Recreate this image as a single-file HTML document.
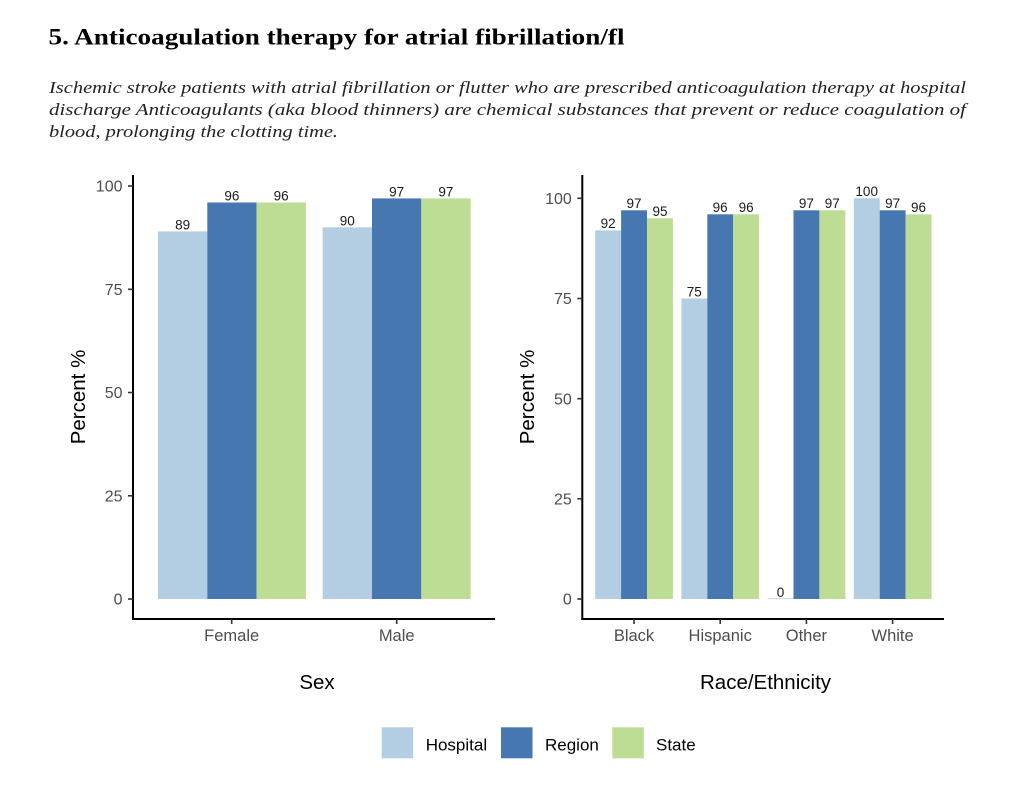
<!DOCTYPE html>
<html>
<head>
<meta charset="utf-8">
<style>
  html,body{margin:0;padding:0;background:#fff;}
  svg{display:block;}
  .tk{font-family:"Liberation Sans",Arial,sans-serif;font-size:16px;fill:#4d4d4d;}
  .tx{font-family:"Liberation Sans",Arial,sans-serif;font-size:16.5px;fill:#4d4d4d;}
  .lb{font-family:"Liberation Sans",Arial,sans-serif;font-size:13.5px;fill:#1a1a1a;}
  .at{font-family:"Liberation Sans",Arial,sans-serif;font-size:20.5px;fill:#000;}
  .lg{font-family:"Liberation Sans",Arial,sans-serif;font-size:17px;fill:#000;}
  .ds{font-family:"Liberation Serif","DejaVu Serif",serif;font-style:italic;font-size:17px;fill:#222;}
  .tt{font-family:"Liberation Serif","DejaVu Serif",serif;font-weight:bold;font-size:23px;fill:#000;}
</style>
</head>
<body>
<svg width="1024" height="790" viewBox="0 0 1024 790" xmlns="http://www.w3.org/2000/svg">
  <rect width="1024" height="790" fill="#fff"/>

  <!-- Title & description -->
  <text class="tt" x="48.5" y="44.5" textLength="576" lengthAdjust="spacingAndGlyphs">5.  Anticoagulation therapy for atrial fibrillation/fl</text>
  <text class="ds" x="49" y="93" textLength="917" lengthAdjust="spacingAndGlyphs">Ischemic stroke patients with atrial fibrillation or flutter who are prescribed anticoagulation therapy at hospital</text>
  <text class="ds" x="49" y="115" textLength="917" lengthAdjust="spacingAndGlyphs">discharge Anticoagulants (aka blood thinners) are chemical substances that prevent or reduce coagulation of</text>
  <text class="ds" x="49" y="137" textLength="289" lengthAdjust="spacingAndGlyphs">blood, prolonging the clotting time.</text>

  <!-- ===== Left panel ===== -->
  <rect x="158" y="231.4" width="49.3" height="367.6" fill="#b3cde3"/>
  <rect x="207.3" y="202.5" width="49.3" height="396.5" fill="#4677b0"/>
  <rect x="256.6" y="202.5" width="49.3" height="396.5" fill="#bedd94"/>
  <rect x="322.7" y="227.3" width="49.3" height="371.7" fill="#b3cde3"/>
  <rect x="372" y="198.4" width="49.3" height="400.6" fill="#4677b0"/>
  <rect x="421.3" y="198.4" width="49.3" height="400.6" fill="#bedd94"/>

  <text class="lb" x="182.6" y="229.4" text-anchor="middle">89</text>
  <text class="lb" x="231.9" y="200.5" text-anchor="middle">96</text>
  <text class="lb" x="281.2" y="200.5" text-anchor="middle">96</text>
  <text class="lb" x="347.3" y="225.3" text-anchor="middle">90</text>
  <text class="lb" x="396.6" y="196.4" text-anchor="middle">97</text>
  <text class="lb" x="445.9" y="196.4" text-anchor="middle">97</text>

  <line x1="133" y1="175" x2="133" y2="620" stroke="#000" stroke-width="2"/>
  <line x1="132" y1="619" x2="495" y2="619" stroke="#000" stroke-width="2"/>
  <g stroke="#333" stroke-width="1.6">
    <line x1="128" y1="186" x2="133" y2="186"/>
    <line x1="128" y1="289.3" x2="133" y2="289.3"/>
    <line x1="128" y1="392.5" x2="133" y2="392.5"/>
    <line x1="128" y1="495.8" x2="133" y2="495.8"/>
    <line x1="128" y1="599" x2="133" y2="599"/>
    <line x1="231.7" y1="619" x2="231.7" y2="624"/>
    <line x1="396.7" y1="619" x2="396.7" y2="624"/>
  </g>
  <text class="tk" x="122.5" y="191.7" text-anchor="end">100</text>
  <text class="tk" x="122.5" y="295" text-anchor="end">75</text>
  <text class="tk" x="122.5" y="398.2" text-anchor="end">50</text>
  <text class="tk" x="122.5" y="501.5" text-anchor="end">25</text>
  <text class="tk" x="122.5" y="604.7" text-anchor="end">0</text>
  <text class="tx" x="231.7" y="641" text-anchor="middle">Female</text>
  <text class="tx" x="396.7" y="641" text-anchor="middle">Male</text>
  <text class="at" x="317" y="689" text-anchor="middle">Sex</text>
  <text class="at" transform="translate(85,397) rotate(-90)" text-anchor="middle">Percent %</text>

  <!-- ===== Right panel ===== -->
  <rect x="595.2" y="230.4" width="25.9" height="368.6" fill="#b3cde3"/>
  <rect x="621.1" y="210.3" width="25.9" height="388.7" fill="#4677b0"/>
  <rect x="647" y="218.3" width="25.9" height="380.7" fill="#bedd94"/>
  <rect x="681.4" y="298.5" width="25.9" height="300.5" fill="#b3cde3"/>
  <rect x="707.3" y="214.3" width="25.9" height="384.7" fill="#4677b0"/>
  <rect x="733.2" y="214.3" width="25.9" height="384.7" fill="#bedd94"/>
  <rect x="767.6" y="598.3" width="25.9" height="0.8" fill="#b3cde3"/>
  <rect x="793.5" y="210.3" width="25.9" height="388.7" fill="#4677b0"/>
  <rect x="819.4" y="210.3" width="25.9" height="388.7" fill="#bedd94"/>
  <rect x="853.8" y="198.3" width="25.9" height="400.7" fill="#b3cde3"/>
  <rect x="879.7" y="210.3" width="25.9" height="388.7" fill="#4677b0"/>
  <rect x="905.6" y="214.3" width="25.9" height="384.7" fill="#bedd94"/>

  <text class="lb" x="608.1" y="228.2" text-anchor="middle">92</text>
  <text class="lb" x="634" y="208.1" text-anchor="middle">97</text>
  <text class="lb" x="660" y="216.1" text-anchor="middle">95</text>
  <text class="lb" x="694.3" y="296.3" text-anchor="middle">75</text>
  <text class="lb" x="720.2" y="212.1" text-anchor="middle">96</text>
  <text class="lb" x="746.1" y="212.1" text-anchor="middle">96</text>
  <text class="lb" x="780.5" y="596.8" text-anchor="middle">0</text>
  <text class="lb" x="806.4" y="208.1" text-anchor="middle">97</text>
  <text class="lb" x="832.3" y="208.1" text-anchor="middle">97</text>
  <text class="lb" x="866.7" y="196.1" text-anchor="middle">100</text>
  <text class="lb" x="892.6" y="208.1" text-anchor="middle">97</text>
  <text class="lb" x="918.5" y="212.1" text-anchor="middle">96</text>

  <line x1="582.3" y1="175" x2="582.3" y2="620" stroke="#000" stroke-width="2"/>
  <line x1="581.3" y1="619" x2="944" y2="619" stroke="#000" stroke-width="2"/>
  <g stroke="#333" stroke-width="1.6">
    <line x1="577.3" y1="198.3" x2="582.3" y2="198.3"/>
    <line x1="577.3" y1="298.5" x2="582.3" y2="298.5"/>
    <line x1="577.3" y1="398.7" x2="582.3" y2="398.7"/>
    <line x1="577.3" y1="498.8" x2="582.3" y2="498.8"/>
    <line x1="577.3" y1="599" x2="582.3" y2="599"/>
    <line x1="634" y1="619" x2="634" y2="624"/>
    <line x1="720.2" y1="619" x2="720.2" y2="624"/>
    <line x1="806.4" y1="619" x2="806.4" y2="624"/>
    <line x1="892.6" y1="619" x2="892.6" y2="624"/>
  </g>
  <text class="tk" x="571.8" y="204" text-anchor="end">100</text>
  <text class="tk" x="571.8" y="304.2" text-anchor="end">75</text>
  <text class="tk" x="571.8" y="404.4" text-anchor="end">50</text>
  <text class="tk" x="571.8" y="504.5" text-anchor="end">25</text>
  <text class="tk" x="571.8" y="604.7" text-anchor="end">0</text>
  <text class="tx" x="634" y="641" text-anchor="middle">Black</text>
  <text class="tx" x="720.2" y="641" text-anchor="middle">Hispanic</text>
  <text class="tx" x="806.4" y="641" text-anchor="middle">Other</text>
  <text class="tx" x="892.6" y="641" text-anchor="middle">White</text>
  <text class="at" x="765.5" y="689" text-anchor="middle">Race/Ethnicity</text>
  <text class="at" transform="translate(534,397) rotate(-90)" text-anchor="middle">Percent %</text>

  <!-- Legend -->
  <rect x="381.7" y="727.3" width="31.5" height="31" fill="#b3cde3"/>
  <text class="lg" x="425.7" y="750.5">Hospital</text>
  <rect x="501" y="727.3" width="31.5" height="31" fill="#4677b0"/>
  <text class="lg" x="545" y="750.5">Region</text>
  <rect x="612.3" y="727.3" width="31.5" height="31" fill="#bedd94"/>
  <text class="lg" x="656" y="750.5">State</text>
</svg>
</body>
</html>
